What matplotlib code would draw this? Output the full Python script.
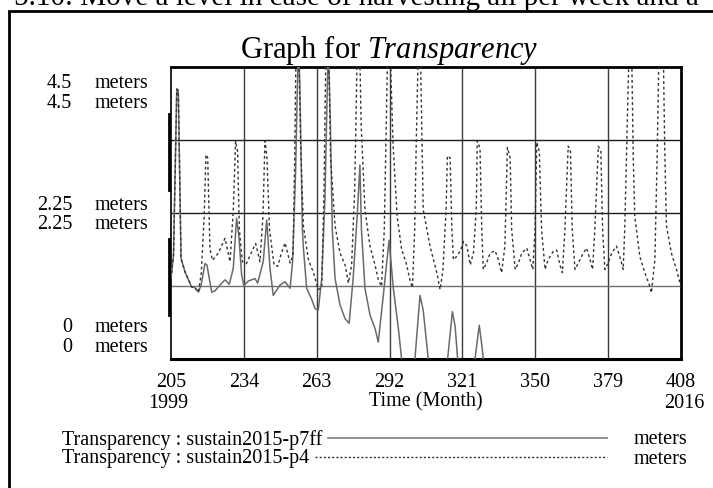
import matplotlib
matplotlib.use("Agg")
import matplotlib.pyplot as plt
from matplotlib.lines import Line2D
from matplotlib.patches import Rectangle

plt.rcParams['font.family'] = ['Liberation Serif', 'DejaVu Serif']
plt.rcParams['mathtext.fontset'] = 'custom'
plt.rcParams['mathtext.rm'] = 'Liberation Serif'
plt.rcParams['mathtext.it'] = 'Liberation Serif:italic'

# ---------------- data ----------------
page_text = "5.10: Move a level in case of harvesting all per week and a"
title_text = r"Graph for $\mathit{Transparency}$"
x_label = "Time (Month)"
x_ticks = [205, 234, 263, 292, 321, 350, 379, 408]
year_start, year_end = "1999", "2016"
y_ticks = [0, 2.25, 4.5]
y_tick_labels = ["0", "2.25", "4.5"]
unit = "meters"
series_names = ["Transparency : sustain2015-p7ff", "Transparency : sustain2015-p4"]

p7ff_month = [205, 206, 207.3, 207.9, 209, 210.6, 213.2, 214.5, 215.9, 217, 218.5, 219.3,
              221.2, 222.5, 224.5, 226.5, 228.2, 229.8, 231.1, 232, 233.1, 234, 235.7,
              238.4, 239.5, 241.7, 243.1, 244.4, 245.7, 248.4, 250.4, 252.4, 253.4, 254.6,
              255.7, 256.3, 257.3, 257.7, 259, 261, 262.3, 263.6, 265, 266.3, 267.6, 268.4,
              269.2, 270.3, 272.3, 274.3, 275.9, 277.5, 279.1, 280.2, 280.8, 282.2, 284.2,
              286.2, 287.5, 289.5, 291.8, 293.5, 295.5, 296.8, 299.5, 302.1, 304.1, 305.4,
              307.4, 311, 315.1, 317, 318.1, 319.1, 322.5, 326, 327.7, 328.6, 329.3, 335,
              350, 380, 408]
p7ff_value = [1.24, 1.6, 4.16, 4.14, 1.55, 1.34, 1.11, 1.1, 1.03, 1.14, 1.47, 1.45,
              1.03, 1.05, 1.14, 1.22, 1.15, 1.40, 2.17, 1.9, 1.30, 1.13, 1.2,
              1.24, 1.17, 1.50, 2.14, 1.40, 0.98, 1.14, 1.19, 1.09, 1.50, 2.9,
              4.9, 4.2, 2.01, 1.71, 1.09, 0.92, 0.78, 0.75, 1.24, 2.5, 4.9, 3.7,
              2.0, 1.24, 0.83, 0.62, 0.55, 1.24, 2.2, 2.99, 2.0, 1.09, 0.68,
              0.47, 0.26, 0.98, 1.83, 1.09, 0.47, 0.0, -0.6, 0.0, 0.98, 0.75,
              0.0, -0.7, 0.0, 0.73, 0.5, 0.0, -0.6, 0.0, 0.52, 0.25, 0.0, -0.8,
              -1.0, -1.1, -1.2]

p4_month = [205, 206, 207.3, 207.9, 209, 210.6, 213.2, 214.5, 215.9, 217, 218.2, 218.9,
            219.6, 220.5, 221.5, 223.8, 226.5, 228.5, 229.8, 230.7, 231.5, 232.2, 233.4,
            235, 237.1, 238.7, 240.4, 241.6, 242.4, 243.2, 244.2, 246, 247.5, 248.7,
            250.4, 252.4, 253.6, 254.2, 254.8, 255.8, 256.6, 257.7, 259.7, 261.7, 263.6,
            265, 265.9, 266.7, 267.7, 268.5, 270.3, 272.3, 274.3, 275.6, 276.9, 278.1,
            279.2, 280.1, 280.7, 282.2, 284.2, 286.2, 287.5, 288.8, 289.9, 291.3, 292.2,
            293.4, 295, 296.8, 298.8, 300.2, 301.1, 302, 302.6, 303.5, 304.2, 304.8,
            305.4, 308.1, 310.8, 312.1, 313.2, 314.5, 315, 316.1, 316.8, 317.4, 318.7,
            320.2, 321.4, 322.8, 324.1, 325.4, 326.5, 326.9, 328, 328.7, 329.3, 330.6,
            332, 334, 335.3, 336.6, 337.9, 338.9, 340, 340.6, 342, 343.3, 344.6, 346.6,
            347.9, 349, 349.9, 350.6, 351.6, 352.5, 353.9, 355.1, 357.2, 358.5, 359.8,
            360.8, 361.8, 363.1, 364, 364.7, 365.8, 367.1, 369.1, 370.4, 371.8, 372.8,
            373.7, 375.1, 376.1, 376.8, 377.7, 379, 380.4, 382.3, 383.6, 385, 385.6,
            386.6, 387.4, 388.3, 389, 389.6, 391.6, 393.6, 395.6, 396.2, 397.6, 398.5,
            399.3, 400.9, 401.5, 402.2, 404.2, 406.2, 407.6, 408]
p4_value = [1.24, 1.6, 4.16, 4.14, 1.55, 1.34, 1.11, 1.1, 1.03, 1.3, 2.2, 3.15,
            3.1, 1.7, 1.52, 1.63, 1.86, 1.5, 2.3, 3.36, 3.2, 2.0, 1.5,
            1.47, 1.65, 1.78, 1.5, 2.2, 3.36, 3.1, 2.0, 1.45, 1.43, 1.6,
            1.79, 1.48, 1.6, 3.0, 4.9, 4.9, 3.3, 2.05, 1.53, 1.33, 1.07,
            1.1, 2.6, 4.9, 4.9, 3.1, 2.05, 1.63, 1.45, 1.17, 1.45, 2.6,
            4.9, 4.8, 3.6, 2.3, 1.74, 1.45, 1.22, 1.12, 2.0, 4.9, 4.8,
            3.3, 2.2, 1.69, 1.45, 1.2, 1.1, 2.0, 3.3, 4.9, 4.9, 3.6,
            2.3, 1.74, 1.33, 1.07, 1.35, 2.3, 3.13, 3.1, 2.0, 1.53, 1.58,
            1.67, 1.81, 1.74, 1.45, 1.64, 2.3, 3.36, 3.25, 2.0, 1.38, 1.48,
            1.63, 1.67, 1.53, 1.33, 1.74, 3.26, 3.1, 2.0, 1.38, 1.48, 1.63, 1.71,
            1.53, 1.38, 2.0, 3.34, 3.2, 2.0, 1.38, 1.53, 1.66, 1.68, 1.45,
            1.33, 2.0, 3.28, 3.2, 2.0, 1.38, 1.48, 1.63, 1.71, 1.53, 1.38,
            2.0, 3.28, 3.2, 2.0, 1.38, 1.48, 1.63, 1.74, 1.58, 1.38, 2.0,
            3.6, 4.9, 4.9, 3.1, 2.2, 1.58, 1.33, 1.12, 1.02, 1.53, 3.1,
            4.9, 4.9, 3.3, 2.05, 1.63, 1.38, 1.17, 1.1]

# ---------------- figure ----------------
W, H = 713, 488
fig = plt.figure(figsize=(W / 100, H / 100), dpi=100)

def fx(px):
    return px / W

def fy(py):
    return 1 - py / H

# page text, cut off at the top as in the scanned page
fig.text(fx(356), fy(5), page_text, ha='center', va='baseline', fontsize=21)

# outer frame
fig.add_artist(Rectangle((fx(9), fy(H + 20)), fx(W + 20), fy(11) - fy(H + 20),
                         transform=fig.transFigure, fill=False, lw=2, ec='black'))

# title
fig.text(fx(389), fy(58), title_text, ha='center', va='baseline', fontsize=22)

L, R, T, B = 171, 681, 67, 359
ax = fig.add_axes([fx(L), fy(B), fx(R - L), fy(T) - fy(B)])
ax.set_xlim(x_ticks[0], x_ticks[-1])
ax.set_ylim(y_ticks[0], y_ticks[-1])

# grid
for xt in x_ticks[1:-1]:
    ax.axvline(xt, color='#3a3a3a', lw=1.0, zorder=1)
for k in range(1, 4):
    ax.axhline(y_ticks[-1] * k / 4, color='#1a1a1a' if k > 1 else '#707070', lw=1.0, zorder=1)

ax.plot(p7ff_month, p7ff_value, color='#6a6a6a', lw=1.1, zorder=3)
ax.plot(p4_month, p4_value, color='#333333', lw=1.0, ls=(0, (2, 2)), zorder=4)

for s in ax.spines.values():
    s.set_linewidth(1.2)
ax.spines['top'].set_linewidth(2)
ax.spines['bottom'].set_linewidth(2.2)
ax.spines['right'].set_linewidth(2)
ax.set_xticks(x_ticks)
ax.set_xticklabels([str(v) for v in x_ticks], fontsize=14.5)
ax.tick_params(axis='x', length=0, pad=10)
ax.set_yticks([])

# x second row
fig.text(fx(168), fy(404), year_start, ha='center', va='center', fontsize=14.5)
fig.text(fx(684), fy(404), year_end, ha='center', va='center', fontsize=14.5)
fig.text(fx(426), fy(402), x_label, ha='center', va='center', fontsize=14.5)

# y labels (two scales, Vensim style)
ylab_rows = [(83, 103), (205, 224), (328, 347)]
for lab, rows in zip(reversed(y_tick_labels), ylab_rows):
    for r in rows:
        fig.text(fx(72), fy(r), lab, ha='right', va='center', fontsize=14.5)
        fig.text(fx(95), fy(r), unit, ha='left', va='center', fontsize=14.5)

# scale bars left of axes
for y0, y1 in [(114, 190), (239, 315)]:
    fig.add_artist(Line2D([fx(169), fx(169)], [fy(y0), fy(y1)], transform=fig.transFigure,
                          color='black', lw=2))

# legend rows
fig.canvas.draw()
renderer = fig.canvas.get_renderer()
styles = [dict(color='#888888', lw=1.3, ls='-'), dict(color='#333333', lw=1.0, ls=(0, (1.5, 1.5)))]
for name, st, yy in zip(series_names, styles, [440, 459]):
    t = fig.text(fx(62), fy(yy), name, ha='left', va='center', fontsize=14.5)
    ext = t.get_window_extent(renderer)
    x0 = ext.x1 + 6
    fig.add_artist(Line2D([x0 / W, fx(607)], [fy(yy - 2), fy(yy - 2)], transform=fig.transFigure, **st))
    fig.text(fx(634), fy(yy), unit, ha='left', va='center', fontsize=14.5)

fig.savefig("out.png", dpi=100)
